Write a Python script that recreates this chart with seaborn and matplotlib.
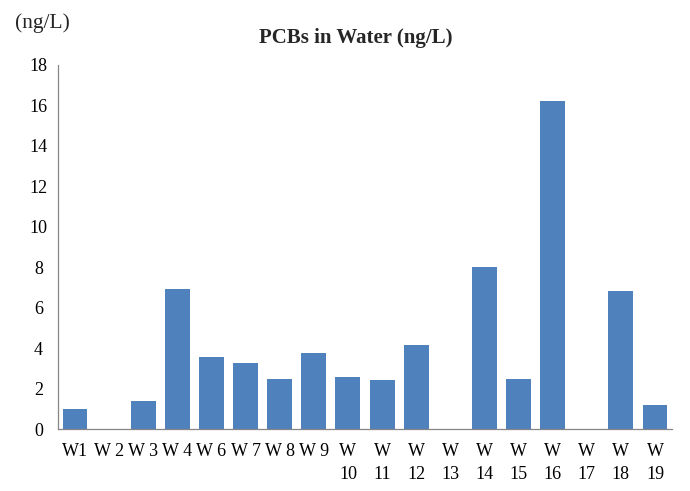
import matplotlib
matplotlib.use("Agg")
import matplotlib.pyplot as plt
import seaborn as sns
import pandas as pd

sites = ["W1", "W 2", "W 3", "W 4", "W 6", "W 7", "W 8", "W 9", "W\n10", "W\n11",
         "W\n12", "W\n13", "W\n14", "W\n15", "W\n16", "W\n17", "W\n18", "W\n19"]
values = [1.0, 0.0, 1.4, 6.9, 3.57, 3.27, 2.48, 3.77, 2.57, 2.43,
          4.16, 0.0, 8.0, 2.48, 16.2, 0.0, 6.84, 1.19]

df = pd.DataFrame({"site": sites, "value": values})

sns.set_style("white")
plt.rcParams['font.family'] = ['Liberation Serif', 'DejaVu Serif']

fig = plt.figure(figsize=(6.9, 4.91), dpi=100)
ax = fig.add_axes([0.084, 0.126, 0.89, 0.742])
sns.barplot(data=df, x="site", y="value", color="#4F81BD", saturation=1,
            width=0.73, ax=ax, edgecolor="none")
ax.set_ylim(0, 18)
ax.set_yticks(range(0, 19, 2))
ax.set_xlim(-0.5, len(sites) - 0.5)
ax.set_xlabel("")
ax.set_ylabel("")
ax.tick_params(axis="both", length=0, labelsize=13, colors="black")
ax.tick_params(axis="x", pad=10)
ax.tick_params(axis="y", pad=14)
for lab in ax.get_xticklabels():
    lab.set_linespacing(1.45)
for lab in ax.get_yticklabels():
    lab.set_horizontalalignment("center")
for s in ["top", "right"]:
    ax.spines[s].set_visible(False)
for s in ["left", "bottom"]:
    ax.spines[s].set_color("#868686")
    ax.spines[s].set_linewidth(0.9)

fig.text(0.515, 0.922, "PCBs in Water (ng/L)", ha="center", va="center",
         fontsize=15, fontweight="bold")
fig.text(0.062, 0.952, "(ng/L)", ha="center", va="center", fontsize=15.5)

fig.savefig("out.png", dpi=100)
